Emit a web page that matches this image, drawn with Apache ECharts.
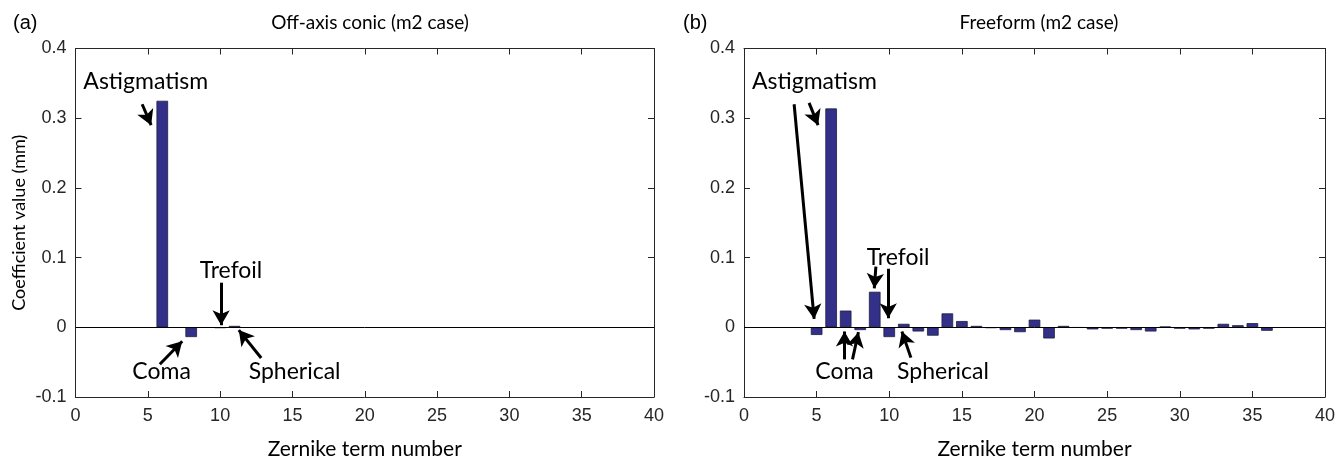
<!DOCTYPE html>
<html><head><meta charset="utf-8">
<script src="https://cdn.jsdelivr.net/npm/echarts@6/dist/echarts.min.js"></script>
<style>html,body{margin:0;padding:0;background:#fff}#c{width:1344px;height:465px}</style>
</head><body><div id="c"></div>
<script>
// ---- data ----
const terms = [1,2,3,4,5,6,7,8,9,10,11,12,13,14,15,16,17,18,19,20,21,22,23,24,25,26,27,28,29,30,31,32,33,34,35,36];
const valuesA = [0,0,0,0,0,0.325,0,-0.014,0,-0.001,0.002,0,0,0,0,0,0,0,0,0,0,0,0,0,0,0,0,0,0,0,0,0,0,0,0,0];
const valuesB = [0,0,0,0,-0.011,0.314,0.024,-0.004,0.051,-0.014,0.005,-0.006,-0.012,0.020,0.009,0.002,-0.001,-0.004,-0.007,0.011,-0.016,0.002,-0.0005,-0.003,-0.002,-0.002,-0.004,-0.006,0.001,-0.002,-0.003,-0.002,0.005,0.003,0.006,-0.005];
const xTicks = [0,5,10,15,20,25,30,35,40];
const yTicks = [-0.1,0,0.1,0.2,0.3,0.4];
const titlesText = ['Off-axis conic (m2 case)','Freeform (m2 case)'];
const panelTags = ['(a)','(b)'];
const xName = 'Zernike term number';
const yName = 'Coefficient value (mm)';
// annotations: [text, x, y]
const labelsA = [['Astigmatism',4.86,0.352],['Trefoil',10.75,0.082],['Coma',5.95,-0.064],['Spherical',15.15,-0.064]];
const arrowsA = [[4.61,0.320,5.23,0.290],[10.07,0.064,10.07,0.003],[5.83,-0.053,7.38,-0.020],[12.84,-0.044,11.29,-0.004]];
const labelsB = [['Astigmatism',4.85,0.352],['Trefoil',10.61,0.100],['Coma',6.92,-0.063],['Spherical',13.70,-0.063]];
const arrowsB = [[3.45,0.320,4.83,0.012],[4.48,0.322,5.10,0.290],[9.08,0.087,8.97,0.056],[9.93,0.084,9.93,0.013],[6.92,-0.046,6.92,-0.006],[7.47,-0.046,7.88,-0.007],[11.49,-0.0435,10.87,-0.006]];

// ---- chart ----
const chart = echarts.init(document.getElementById('c'), null, {renderer:'canvas'});
const calib = 'Lato, "Open Sans", sans-serif';
const arial = '"Liberation Sans", Arial, sans-serif';
const axCol = '#262626';
const grids = [
  {left:75.5, width:578.5, top:48.5, height:354},
  {left:744, width:581, top:48.5, height:354}
];
const xMin = xTicks[0], xMax = xTicks[xTicks.length-1], xInt = xTicks[1]-xTicks[0];
const yMin = yTicks[0], yMax = yTicks[yTicks.length-1], yInt = 0.1;
const xAxes = [], yAxes = [];
[0,1].forEach(g=>{
  xAxes.push({type:'value', gridIndex:g, min:xMin, max:xMax, interval:xInt, position:'bottom',
    name:xName, nameLocation:'middle', nameGap:42, nameTextStyle:{fontFamily:calib, fontSize:21, color:'#000'},
    axisLine:{onZero:false, lineStyle:{color:axCol, width:1}},
    axisTick:{inside:true, length:6, lineStyle:{color:axCol}},
    axisLabel:{fontFamily:arial, fontSize:18, color:axCol, margin:10},
    splitLine:{show:false}});
  xAxes.push({type:'value', gridIndex:g, min:xMin, max:xMax, interval:xInt, position:'top',
    axisLine:{onZero:false, lineStyle:{color:axCol, width:1}},
    axisTick:{inside:true, length:6, lineStyle:{color:axCol}},
    axisLabel:{show:false}, splitLine:{show:false}});
  yAxes.push({type:'value', gridIndex:g, min:yMin, max:yMax, interval:yInt, position:'left',
    name: g===0 ? yName : '', nameLocation:'middle', nameGap:47, nameTextStyle:{fontFamily:calib, fontSize:18, color:'#000'},
    axisLine:{show:true, onZero:false, lineStyle:{color:axCol, width:1}},
    axisTick:{show:true, inside:true, length:6, lineStyle:{color:axCol}},
    axisLabel:{fontFamily:arial, fontSize:18, color:axCol, margin:9},
    splitLine:{show:false}});
  yAxes.push({type:'value', gridIndex:g, min:yMin, max:yMax, interval:yInt, position:'right',
    axisLine:{show:true, onZero:false, lineStyle:{color:axCol, width:1}},
    axisTick:{show:true, inside:true, length:6, lineStyle:{color:axCol}},
    axisLabel:{show:false}, splitLine:{show:false}});
});
function mkSeries(g, vals, labels, arrows){
  const lines = arrows.map(a=>[{coord:[a[0],a[1]], symbol:'none'},{coord:[a[2],a[3]], symbol:'arrow'}]);
  lines.push([{coord:[xMin,0], symbol:'none', lineStyle:{width:1, color:'#000'}},{coord:[xMax,0], symbol:'none'}]);
  return {
    type:'bar', xAxisIndex:g*2, yAxisIndex:g*2, barWidth:11.6,
    data: terms.map((t,i)=>[t, vals[i] === 0 ? null : vals[i]]),
    itemStyle:{color:'#33308a', borderColor:'#1e1e3c', borderWidth:0.8},
    animation:false, silent:true,
    markLine:{silent:true, animation:false, symbolSize:[13,15], label:{show:false},
      lineStyle:{color:'#000', width:3, type:'solid'}, emphasis:{disabled:true},
      data: lines},
    markPoint:{silent:true, animation:false, symbol:'rect', symbolSize:1,
      itemStyle:{color:'rgba(0,0,0,0)'},
      label:{show:true, position:'inside', formatter:p=>p.name, fontFamily:calib, fontSize:23, color:'#000'},
      data: labels.map(l=>({name:l[0], coord:[l[1], l[2]]}))}
  };
}
const titleArr = [
  {text:panelTags[0], left:8, top:8, textStyle:{fontFamily:arial, fontSize:20, fontWeight:'normal', color:'#000'}},
  {text:titlesText[0], left:365, top:8, textAlign:'center', textStyle:{fontFamily:calib, fontSize:19, fontWeight:'normal', color:'#000'}},
  {text:panelTags[1], left:678, top:8, textStyle:{fontFamily:arial, fontSize:20, fontWeight:'normal', color:'#000'}},
  {text:titlesText[1], left:1034, top:8, textAlign:'center', textStyle:{fontFamily:calib, fontSize:19, fontWeight:'normal', color:'#000'}}
];
chart.setOption({
  animation:false, backgroundColor:'#fff',
  title: titleArr, grid: grids, xAxis: xAxes, yAxis: yAxes,
  series:[mkSeries(0, valuesA, labelsA, arrowsA), mkSeries(1, valuesB, labelsB, arrowsB)]
});
</script></body></html>
